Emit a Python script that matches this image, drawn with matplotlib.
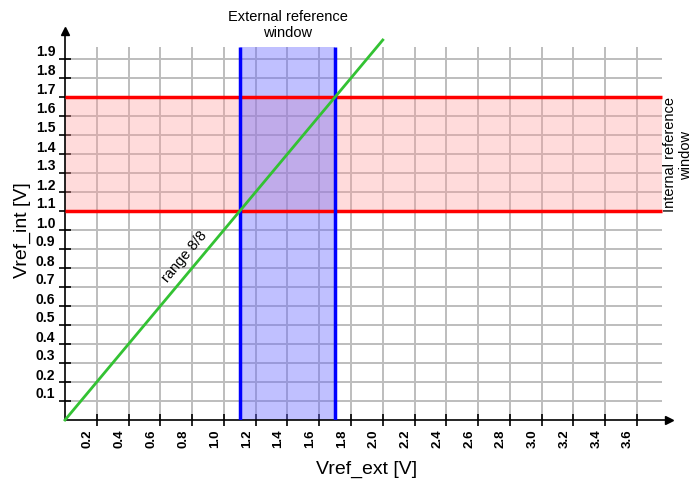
import numpy as np
import matplotlib.pyplot as plt
from matplotlib.transforms import ScaledTranslation

plt.rcParams['font.family'] = ['Liberation Sans', 'DejaVu Sans']

x_ticks = [0.2, 0.4, 0.6, 0.8, 1.0, 1.2, 1.4, 1.6, 1.8, 2.0,
           2.2, 2.4, 2.6, 2.8, 3.0, 3.2, 3.4, 3.6]
x_labels = ['0.2', '0.4', '0.6', '0.8', '1.0', '1.2', '1.4', '1.6', '1.8', '2.0',
            '2.2', '2.4', '2.6', '2.8', '3.0', '3.2', '3.4', '3.6']
y_ticks = [0.1, 0.2, 0.3, 0.4, 0.5, 0.6, 0.7, 0.8, 0.9, 1.0,
           1.1, 1.2, 1.3, 1.4, 1.5, 1.6, 1.7, 1.8, 1.9]
y_labels = ['0.1', '0.2', '0.3', '0.4', '0.5', '0.6', '0.7', '0.8', '0.9', '1.0',
            '1.1', '1.2', '1.3', '1.4', '1.5', '1.6', '1.7', '1.8', '1.9']

ext_window = [1.1, 1.7]   # Vref_ext range
int_window = [1.1, 1.7]   # Vref_int range
range_x = [0.0, 2.0]
range_y = [0.0, 2.0]

grid_xmax = 3.76
grid_ymax = 1.965

fig = plt.figure(figsize=(6.92, 4.84), dpi=100)
ax = fig.add_axes([65 / 692, 64 / 484, 603.8 / 692, 389.5 / 484])
ax.set_xlim(0, 3.8)
ax.set_ylim(0, 2.05)

# grid
ax.vlines(x_ticks, 0, grid_ymax, color='#bdbdbd', lw=1.4, zorder=1)
ax.hlines(y_ticks, 0, grid_xmax, color='#bdbdbd', lw=1.4, zorder=1)

# windows
ax.fill_between([0, grid_xmax], int_window[0], int_window[1],
                facecolor='#ff9a9a', alpha=0.35, edgecolor='none', zorder=2)
ax.fill_between(ext_window, 0, grid_ymax,
                facecolor='#6a6aff', alpha=0.42, edgecolor='none', zorder=2)
ax.hlines(int_window, 0, grid_xmax, color='#ff0000', lw=2.5, zorder=3)
ax.vlines(ext_window, 0, grid_ymax, color='#0000ff', lw=2.5, zorder=3)

# range line
ax.plot(range_x, range_y, color='#33c233', lw=2, zorder=4, clip_on=False)
ax.text(0.75, 0.86, 'range 8/8', rotation=50, ha='center', va='center',
        fontsize=10.5, zorder=5)

# axes
for s in ['top', 'right']:
    ax.spines[s].set_visible(False)
ax.spines['left'].set_linewidth(1.2)
ax.spines['bottom'].set_linewidth(1.2)
ax.plot(1, 0, '>k', markersize=6, transform=ax.transAxes, clip_on=False)
ax.plot(0, 1, '^k', markersize=6, transform=ax.transAxes, clip_on=False)

ax.set_xticks(x_ticks)
ax.set_xticklabels(x_labels, rotation=90, fontsize=9.5, fontweight='bold')
ax.set_yticks(y_ticks)
ax.set_yticklabels(y_labels, fontsize=10, fontweight='bold')
ax.tick_params(axis='both', direction='inout', length=8, width=1.2, pad=3)

for lab in ax.get_yticklabels():
    lab.set_transform(lab.get_transform() + ScaledTranslation(0, 8 / 100, fig.dpi_scale_trans))
for lab in ax.get_xticklabels():
    lab.set_transform(lab.get_transform() + ScaledTranslation(-9 / 100, 0, fig.dpi_scale_trans))

fig.text(367 / 692, 1 - 469 / 484, 'Vref_ext [V]', ha='center', va='center', fontsize=14)
fig.text(22 / 692, 1 - 230 / 484, 'Vref_int [V]', ha='center', va='center',
         fontsize=14, rotation=90)
fig.text(288 / 692, 1 - 25 / 484, 'External reference\nwindow', ha='center',
         va='center', fontsize=10.5, linespacing=1.2)
fig.text(678 / 692, 1 - 155 / 484, 'Internal reference\nwindow', ha='center',
         va='center', fontsize=10.5, rotation=90, linespacing=1.2)

fig.savefig('out.png', dpi=100)
